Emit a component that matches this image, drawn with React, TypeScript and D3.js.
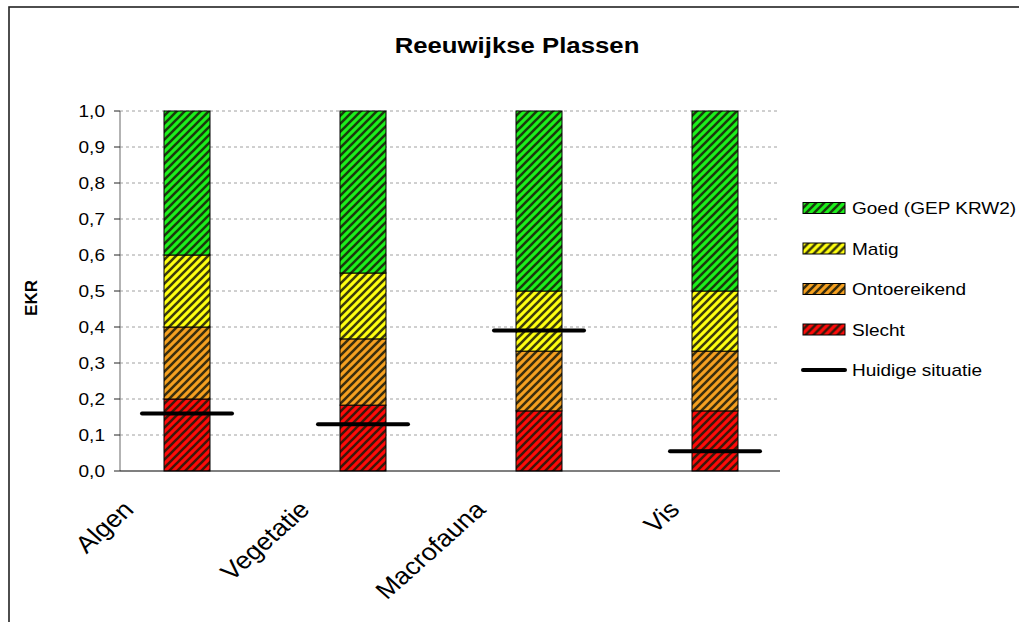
import React from "react";
import * as d3 from "d3";

// EKR class boundaries per quality element, stacked from 0 to 1
const categories = ["Algen", "Vegetatie", "Macrofauna", "Vis"];
const slecht = [0.2, 0.183, 0.167, 0.167];
const ontoereikend = [0.2, 0.184, 0.166, 0.166];
const matig = [0.2, 0.183, 0.167, 0.167];
const goed = [0.4, 0.45, 0.5, 0.5];
// current situation per quality element
const huidige = [0.16, 0.13, 0.39, 0.055];
const yTicks = [0, 0.1, 0.2, 0.3, 0.4, 0.5, 0.6, 0.7, 0.8, 0.9, 1.0];

const seriesKeys = ["slecht", "ontoereikend", "matig", "goed"];
const seriesNames: Record<string, string> = {
  goed: "Goed (GEP KRW2)",
  matig: "Matig",
  ontoereikend: "Ontoereikend",
  slecht: "Slecht",
};
const seriesColors: Record<string, string> = {
  goed: "#1cf01c",
  matig: "#ffff10",
  ontoereikend: "#f5a020",
  slecht: "#ff0a0a",
};

const W = 1019;
const H = 622;
const plot = { left: 120, right: 780, top: 111, bottom: 471 };
// text is drawn slightly wide, as in the exported chart
const SX = 1.12;
// short labels sit closer to their bar
const labelShift: Record<string, number> = { Vis: 18 };

export default function App() {
  const rows = categories.map((c, i) => ({
    cat: c,
    slecht: slecht[i],
    ontoereikend: ontoereikend[i],
    matig: matig[i],
    goed: goed[i],
  }));
  const stacked = d3.stack<any>().keys(seriesKeys)(rows);

  const y = d3.scaleLinear().domain([0, 1]).range([plot.bottom, plot.top]);
  const x = d3.scalePoint<string>().domain(categories).range([187, 715]);
  const barW = 46;
  const lineHalf = 45;
  const fmt = (v: number) => d3.format(".1f")(v).replace(".", ",");

  const legendOrder = ["goed", "matig", "ontoereikend", "slecht"];
  const legendX = 803;
  const legendY0 = 208;
  const legendStep = 40.5;

  return (
    <svg
      width={W}
      height={H}
      style={{ position: "absolute", left: 0, top: 0, background: "#fff" }}
      fontFamily="Arial, 'Liberation Sans', sans-serif"
    >
      <defs>
        {seriesKeys.map((k) => (
          <pattern
            key={k}
            id={`hatch-${k}`}
            patternUnits="userSpaceOnUse"
            width={8}
            height={8}
          >
            <rect width={8} height={8} fill={seriesColors[k]} />
            <path
              d="M-2,2 L2,-2 M0,8 L8,0 M6,10 L10,6"
              stroke="#1a1a0a"
              strokeOpacity={0.85}
              strokeWidth={2.6}
            />
          </pattern>
        ))}
      </defs>

      {/* chart frame */}
      <rect x={9} y={7} width={W + 20} height={H + 20} fill="#fff" stroke="#222" strokeWidth={1.6} />

      {/* title */}
      <text
        transform={`translate(517,53) scale(${SX},1)`}
        textAnchor="middle"
        fontSize={23}
        fontWeight="bold"
      >
        Reeuwijkse Plassen
      </text>

      {/* gridlines */}
      {yTicks.slice(1).map((t) => (
        <line
          key={t}
          x1={plot.left}
          x2={plot.right}
          y1={y(t)}
          y2={y(t)}
          stroke="#a0a0a0"
          strokeDasharray="3,3"
        />
      ))}

      {/* y axis */}
      <line x1={plot.left} x2={plot.left} y1={plot.top} y2={plot.bottom} stroke="#808080" strokeWidth={1.2} />
      {yTicks.map((t) => (
        <g key={t}>
          <line x1={plot.left - 6} x2={plot.left} y1={y(t)} y2={y(t)} stroke="#222" />
          <text
            transform={`translate(105,${y(t)}) scale(${SX},1)`}
            dy="0.36em"
            textAnchor="end"
            fontSize={17}
          >
            {fmt(t)}
          </text>
        </g>
      ))}
      <text
        transform={`translate(37,298) rotate(-90)`}
        textAnchor="middle"
        fontSize={17}
        fontWeight="bold"
      >
        EKR
      </text>

      {/* stacked bars */}
      {stacked.map((s) => (
        <g key={s.key}>
          {s.map((d, i) => (
            <rect
              key={i}
              x={(x(categories[i]) as number) - barW / 2}
              y={y(d[1])}
              width={barW}
              height={y(d[0]) - y(d[1])}
              fill={`url(#hatch-${s.key})`}
              stroke="#000"
              strokeWidth={1}
            />
          ))}
        </g>
      ))}

      {/* x axis */}
      <line x1={plot.left} x2={plot.right} y1={plot.bottom} y2={plot.bottom} stroke="#000" strokeWidth={1.2} />
      {categories.map((c) => (
        <text
          key={c}
          transform={`translate(${(x(c) as number) - 52 + (labelShift[c] || 0)},${plot.bottom + 40}) scale(${SX},1) rotate(-45)`}
          textAnchor="end"
          fontSize={24}
        >
          {c}
        </text>
      ))}

      {/* current situation */}
      {huidige.map((v, i) => (
        <line
          key={i}
          x1={(x(categories[i]) as number) - lineHalf}
          x2={(x(categories[i]) as number) + lineHalf}
          y1={y(v)}
          y2={y(v)}
          stroke="#000"
          strokeWidth={4}
          strokeLinecap="round"
        />
      ))}

      {/* legend */}
      {legendOrder.map((k, i) => (
        <g key={k} transform={`translate(${legendX},${legendY0 + i * legendStep})`}>
          <rect x={0} y={-5.5} width={42} height={11} fill={`url(#hatch-${k})`} stroke="#000" strokeWidth={1} />
          <text transform={`translate(49,0) scale(${SX},1)`} dy="0.36em" fontSize={17}>
            {seriesNames[k]}
          </text>
        </g>
      ))}
      <g transform={`translate(${legendX},${legendY0 + 4 * legendStep})`}>
        <line x1={0} x2={42} y1={0} y2={0} stroke="#000" strokeWidth={4} strokeLinecap="round" />
        <text transform={`translate(49,0) scale(${SX},1)`} dy="0.36em" fontSize={17}>
          Huidige situatie
        </text>
      </g>
    </svg>
  );
}
